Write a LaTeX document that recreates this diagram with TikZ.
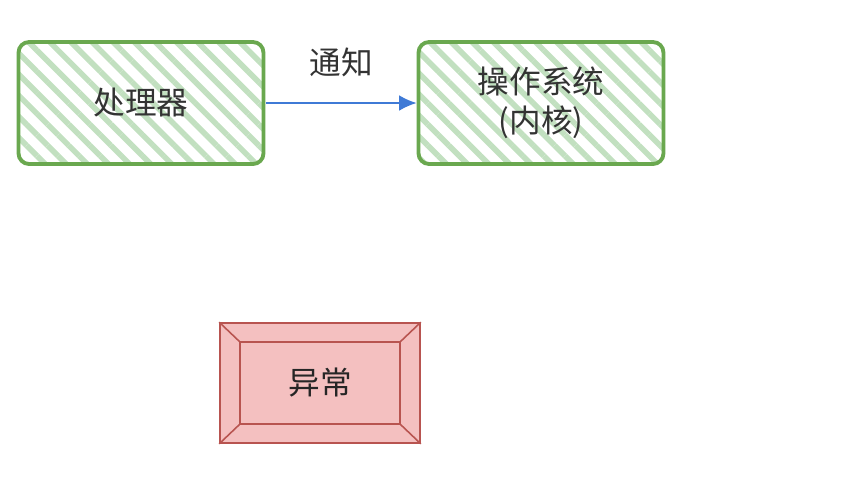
\documentclass[tikz,border=0pt]{standalone}
\usepackage{fontspec}
\setmainfont{Noto Sans CJK SC}
\usepackage{tikz}
\usetikzlibrary{patterns.meta,calc,arrows.meta}

\definecolor{okgreen}{HTML}{6AA84F}
\definecolor{hatchgreen}{HTML}{C2E0C0}
\definecolor{errred}{HTML}{B85450}
\definecolor{errfill}{HTML}{F4C0C0}
\definecolor{linkblue}{HTML}{3F7AD6}

\tikzset{
	unit/.style={rectangle,draw=okgreen,line width=2.2pt,rounded corners=6pt,
		pattern={Lines[angle=-45,distance=8.5pt,line width=3.2pt]},pattern color=hatchgreen,
		minimum width=4.9cm,minimum height=2.44cm,align=center,text=black!80},
	bevel/.style={rectangle,draw=errred,line width=0.9pt,fill=errfill,
		minimum width=4cm,minimum height=2.4cm,text=black!85},
	every node/.style={font=\fontsize{18}{22}\selectfont}
}

\begin{document}
\begin{tikzpicture}[x=0.02cm,y=-0.02cm]
	\useasboundingbox (0,0) rectangle (866,478);

		\node[unit] (cpu) at (141,103) {处理器};
		\node[unit] (os) at (541,103) {操作系统\\(内核)};
		\node[bevel] (exc) at (320,383) {异常};

		% bevel of the exception box
		\draw[errred,line width=0.9pt]
			($(exc.north west)+(21,20)$) rectangle ($(exc.south east)+(-21,-20)$);
		\draw[errred,line width=0.9pt] (exc.north west) -- ($(exc.north west)+(21,20)$);
		\draw[errred,line width=0.9pt] (exc.north east) -- ($(exc.north east)+(-21,20)$);
		\draw[errred,line width=0.9pt] (exc.south west) -- ($(exc.south west)+(21,-20)$);
		\draw[errred,line width=0.9pt] (exc.south east) -- ($(exc.south east)+(-21,-20)$);

		\path[-{Latex[length=10pt,width=9pt]},color=linkblue,line width=1pt]
			(cpu) edge node[midway,above=0.38cm,text=black!80] {通知} (os);

	\end{tikzpicture}
\end{document}
